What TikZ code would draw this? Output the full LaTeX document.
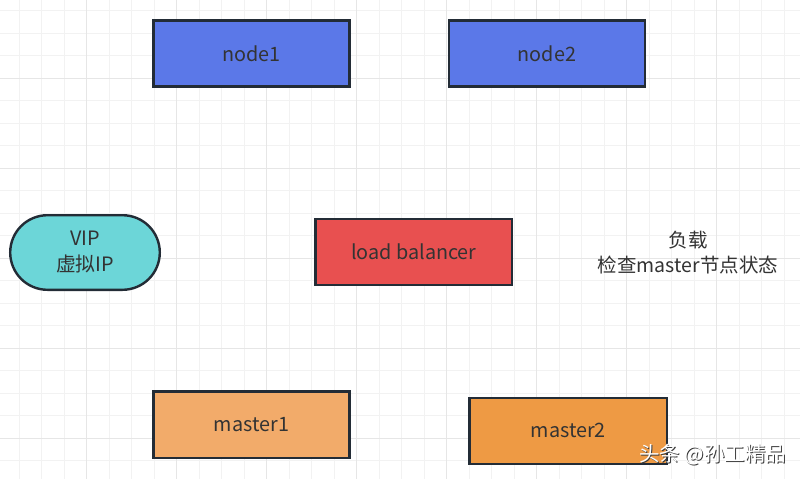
\documentclass[tikz,border=0pt]{standalone}
\usepackage{fontspec}
\setmainfont{Noto Sans CJK SC}
\definecolor{gridminor}{RGB}{242,242,242}
\definecolor{gridmajor}{RGB}{230,230,230}
\definecolor{strokec}{RGB}{35,44,54}
\definecolor{textc}{RGB}{51,51,51}
\definecolor{bluec}{RGB}{91,120,232}
\definecolor{redc}{RGB}{232,80,80}
\definecolor{orangea}{RGB}{242,171,106}
\definecolor{orangeb}{RGB}{238,154,68}
\definecolor{tealc}{RGB}{108,214,216}
\definecolor{shadowc}{RGB}{60,60,60}
\tikzset{
  box/.style={draw=strokec, line width=2.4pt, minimum width=196pt, minimum height=66pt,
    inner sep=0pt, text=textc, font=\fontsize{19.8}{24}\selectfont},
  plaintext/.style={text=textc, font=\fontsize{19.5}{25}\selectfont, align=center, inner sep=0pt},
}
\begin{document}
\begin{tikzpicture}[x=1pt,y=-1pt]
\useasboundingbox (0,0) rectangle (800,479);
\fill[white] (0,0) rectangle (800,479);
% grid
\foreach \i in {0,...,36} {
  \draw[gridminor, line width=1pt] ({-3.3+22.5*\i},0) -- ({-3.3+22.5*\i},479);
}
\foreach \j in {0,...,22} {
  \draw[gridminor, line width=1pt] (0,{-11.7+22.5*\j}) -- (800,{-11.7+22.5*\j});
}
\foreach \i in {0,...,8} {
  \draw[gridmajor, line width=1.4pt] ({-3.3+90*\i},0) -- ({-3.3+90*\i},479);
}
\foreach \j in {0,...,5} {
  \draw[gridmajor, line width=1.4pt] (0,{-11.7+90*\j}) -- (800,{-11.7+90*\j});
}
% nodes
\node[box, fill=bluec] (node1) at (251.5,53.3) {node1};
\node[box, fill=bluec] (node2) at (547,53.3) {node2};
\node[box, fill=redc, minimum width=196.6pt] (lb) at (413.8,251.7) {load balancer};
\node[box, fill=orangea, minimum height=66.6pt] (master1) at (251.5,424.8) {master1};
\node[box, fill=orangeb, minimum width=197.6pt] (master2) at (568.3,430.8) {master2};
\node[box, fill=tealc, minimum width=149.6pt, minimum height=74.6pt, rounded corners=37.3pt,
  align=center, font=\fontsize{19.8}{26}\selectfont] (vip) at (85,252.5) {VIP\\虚拟IP};
\node[plaintext] (note) at (688,253) {负载\\检查master节点状态};
% watermark
\node[text=shadowc, font=\fontsize{20.5}{24}\selectfont, inner sep=0pt] (wmshadow) at (713.5,456) {头条 @孙工精品};
\node[text=white, font=\fontsize{20.5}{24}\selectfont, inner sep=0pt] (wm) at (712.5,455) {头条 @孙工精品};
\end{tikzpicture}
\end{document}
